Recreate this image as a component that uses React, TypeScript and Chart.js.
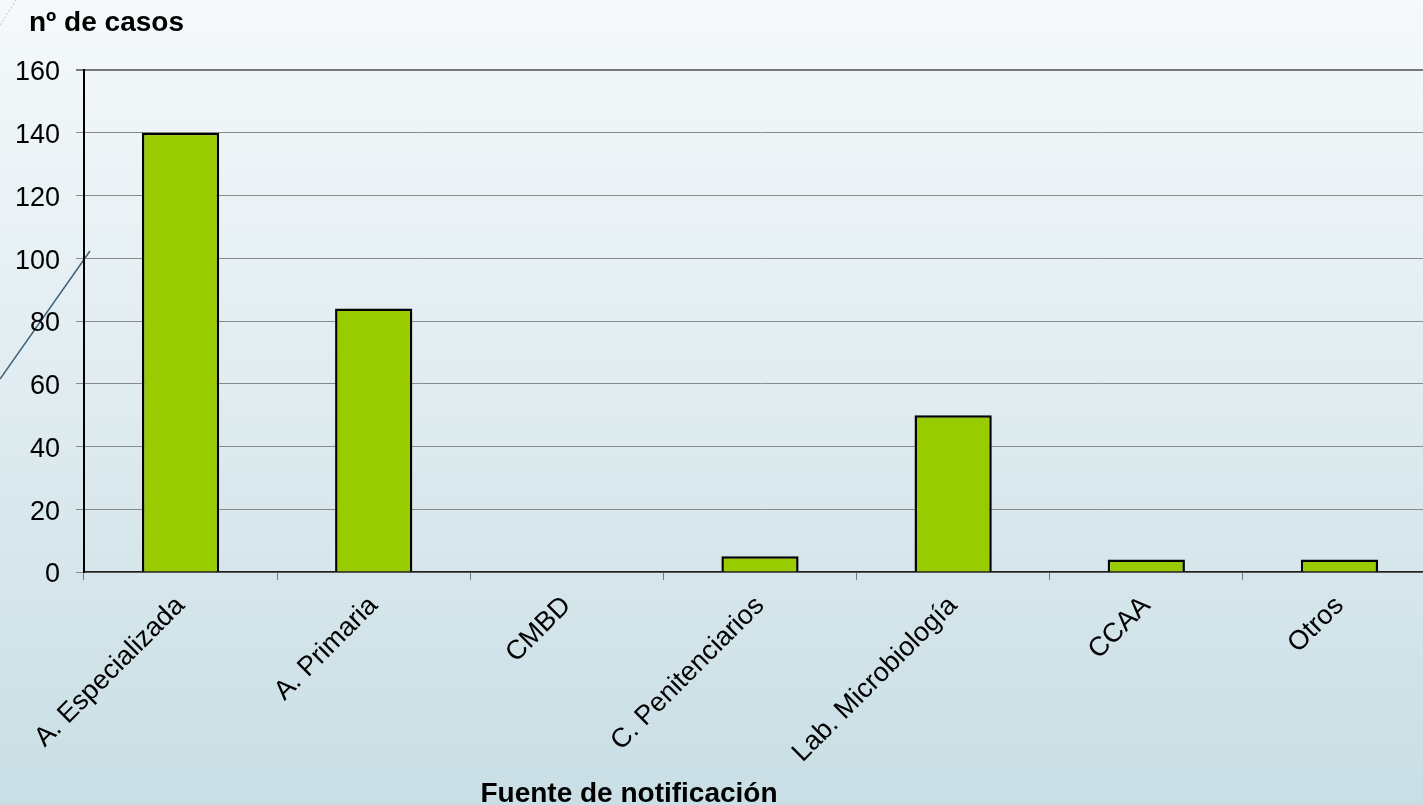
import React, { useEffect, useRef } from "react";
import { Chart, registerables } from "chart.js";

Chart.register(...registerables);

const categories = [
  "A. Especializada",
  "A. Primaria",
  "CMBD",
  "C. Penitenciarios",
  "Lab. Microbiología",
  "CCAA",
  "Otros",
];
const casos = [140, 84, 0, 5, 50, 4, 4];
const yMin = 0;
const yMax = 160;
const yStep = 20;
const yTitle = "nº de casos";
const xTitle = "Fuente de notificación";

const FONT = "'Liberation Sans', Arial, sans-serif";

const decorPlugin = {
  id: "decor",
  beforeDraw(chart: any) {
    const { ctx, width, height } = chart;
    ctx.save();
    const g = ctx.createLinearGradient(0, 0, 0, height);
    g.addColorStop(0, "#f5f9fb");
    g.addColorStop(1, "#c9dee5");
    ctx.fillStyle = g;
    ctx.fillRect(0, 0, width, height);
    // decorative slide lines
    ctx.strokeStyle = "#3f627a";
    ctx.lineWidth = 1.5;
    ctx.beginPath();
    ctx.moveTo(0, 379);
    ctx.lineTo(90, 251);
    ctx.stroke();
    ctx.strokeStyle = "#b8c6d0";
    ctx.lineWidth = 1;
    ctx.setLineDash([2, 2]);
    ctx.beginPath();
    ctx.moveTo(0, 25);
    ctx.lineTo(16, 0);
    ctx.stroke();
    ctx.restore();
  },
  afterDraw(chart: any) {
    const { ctx, chartArea } = chart;
    ctx.save();
    ctx.fillStyle = "#000";
    ctx.font = `bold 28px ${FONT}`;
    ctx.textBaseline = "alphabetic";
    ctx.textAlign = "left";
    ctx.fillText(yTitle, chartArea.left - 55, 31);
    ctx.textAlign = "center";
    ctx.fillText(xTitle, chartArea.left + 545, 802);
    ctx.restore();
  },
};

export default function App() {
  const ref = useRef<HTMLCanvasElement | null>(null);

  useEffect(() => {
    if (!ref.current) return;
    const chart = new Chart(ref.current, {
      type: "bar",
      data: {
        labels: categories,
        datasets: [
          {
            data: casos,
            backgroundColor: "#99cc00",
            borderColor: "#000000",
            borderWidth: 2.5,
            categoryPercentage: 1,
            barPercentage: 0.4,
          },
        ],
      },
      options: {
        responsive: false,
        animation: false,
        devicePixelRatio: 1,
        layout: { padding: { top: 70, right: 4, left: 0, bottom: 0 } },
        plugins: {
          legend: { display: false },
          title: { display: false },
          tooltip: { enabled: false },
        },
        scales: {
          x: {
            offset: true,
            grid: {
              display: true,
              drawOnChartArea: false,
              tickLength: 8,
              color: "#777",
              offset: true,
            },
            border: { display: true, color: "#222", width: 1.5 },
            ticks: {
              color: "#000",
              font: { family: FONT, size: 27 },
              minRotation: 45,
              maxRotation: 45,
              padding: 10,
              autoSkip: false,
            },
            afterFit(scale: any) {
              scale.height = 805 - 572;
            },
          },
          y: {
            min: yMin,
            max: yMax,
            ticks: {
              stepSize: yStep,
              color: "#000",
              font: { family: FONT, size: 27 },
              padding: 16,
              labelOffset: 3,
            },
            grid: {
              color: (c: any) => (c.tick && c.tick.value === yMax ? "#777" : "#8a8a8a"),
              lineWidth: (c: any) => (c.tick && c.tick.value === yMax ? 2 : 1),
              tickLength: 8,
            },
            border: { display: true, color: "#000", width: 2 },
            afterFit(scale: any) {
              scale.width = 84;
            },
          },
        },
      },
      plugins: [decorPlugin],
    });
    return () => chart.destroy();
  }, []);

  return (
    <div
      style={{
        position: "absolute",
        left: 0,
        top: 0,
        width: 1423,
        height: 805,
        overflow: "hidden",
      }}
    >
      <canvas ref={ref} width={1440} height={805} style={{ display: "block" }} />
    </div>
  );
}
